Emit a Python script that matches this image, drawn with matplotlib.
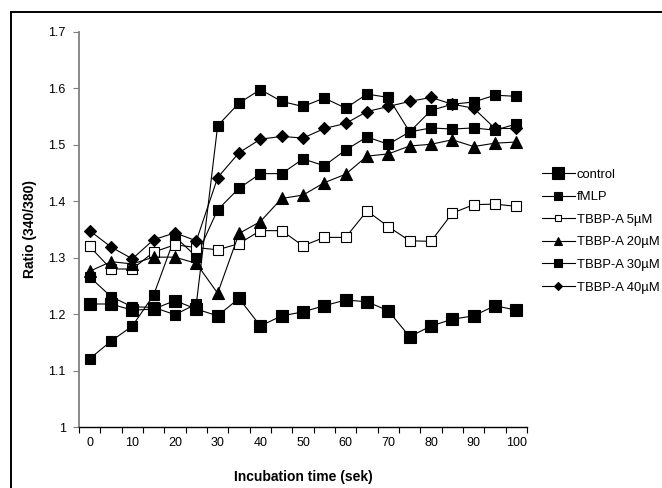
import matplotlib
matplotlib.use("Agg")
import matplotlib.pyplot as plt
from matplotlib.lines import Line2D
from matplotlib.ticker import FixedLocator, NullFormatter, FixedFormatter

plt.rcParams["font.family"] = ["Liberation Sans", "DejaVu Sans"]

TIMES = [0, 5, 10, 15, 20, 25, 30, 35, 40, 45, 50, 55, 60, 65, 70, 75, 80, 85, 90, 95, 100]

CONTROL = [1.218, 1.218, 1.207, 1.209, 1.224, 1.209, 1.197, 1.228, 1.179, 1.197, 1.204,
           1.215, 1.225, 1.222, 1.206, 1.160, 1.179, 1.191, 1.197, 1.215, 1.207]
FMLP = [1.121, 1.152, 1.179, 1.234, 1.337, 1.302, 1.385, 1.423, 1.449, 1.449, 1.475,
        1.463, 1.491, 1.514, 1.501, 1.523, 1.530, 1.528, 1.530, 1.526, 1.537]
TBBPA_5 = [1.320, 1.280, 1.280, 1.310, 1.323, 1.318, 1.314, 1.325, 1.348, 1.348, 1.321,
           1.336, 1.336, 1.383, 1.355, 1.330, 1.329, 1.379, 1.394, 1.395, 1.391]
TBBPA_20 = [1.276, 1.293, 1.289, 1.301, 1.301, 1.290, 1.237, 1.343, 1.364, 1.405, 1.411,
            1.433, 1.448, 1.480, 1.484, 1.498, 1.501, 1.509, 1.497, 1.503, 1.505]
TBBPA_30 = [1.266, 1.231, 1.213, 1.212, 1.199, 1.218, 1.534, 1.574, 1.598, 1.577, 1.568,
            1.583, 1.565, 1.590, 1.584, 1.523, 1.561, 1.572, 1.576, 1.588, 1.586]
TBBPA_40 = [1.348, 1.319, 1.298, 1.332, 1.344, 1.330, 1.442, 1.486, 1.510, 1.515, 1.512,
            1.529, 1.538, 1.559, 1.568, 1.577, 1.584, 1.572, 1.565, 1.529, 1.529]

LABELS = ["control", "fMLP", "TBBP-A 5\u00b5M", "TBBP-A 20\u00b5M", "TBBP-A 30\u00b5M", "TBBP-A 40\u00b5M"]
SERIES = [CONTROL, FMLP, TBBPA_5, TBBPA_20, TBBPA_30, TBBPA_40]

# marker, size in plot, size in legend, face colour
STYLES = [
    ("s", 9.2, 8.0, "black"),
    ("s", 7.0, 5.2, "black"),
    ("s", 7.0, 5.0, "white"),
    ("^", 8.0, 5.8, "black"),
    ("s", 7.0, 5.2, "black"),
    ("D", 6.0, 4.2, "black"),
]

W, H = 662, 488
fig = plt.figure(figsize=(W / 100, H / 100), dpi=100)
ax = fig.add_axes([79 / W, (H - 427) / H, 448 / W, 395 / H])

pos = list(range(len(TIMES)))
for values, (marker, ms, _, face) in zip(SERIES, STYLES):
    ax.plot(pos, values, color="black", linewidth=0.8, marker=marker, markersize=ms,
            markerfacecolor=face, markeredgecolor="black", markeredgewidth=0.8,
            clip_on=False)

ax.set_xlim(-0.5, len(TIMES) - 0.5)
ax.set_ylim(1.0, 1.7)

# category axis: ticks between categories, labels at every second category
ax.xaxis.set_major_locator(FixedLocator([p - 0.5 for p in range(len(TIMES) + 1)]))
ax.xaxis.set_major_formatter(NullFormatter())
ax.xaxis.set_minor_locator(FixedLocator(pos[::2]))
ax.xaxis.set_minor_formatter(FixedFormatter([str(t) for t in TIMES[::2]]))
ax.tick_params(axis="x", which="major", direction="out", length=4.5, width=0.8, color="black")
ax.tick_params(axis="x", which="minor", length=0, pad=7.5, labelsize=9)

yt = [1.0, 1.1, 1.2, 1.3, 1.4, 1.5, 1.6, 1.7]
ax.set_yticks(yt)
ax.set_yticklabels([f"{v:g}" for v in yt])
ax.tick_params(axis="y", direction="out", length=4.5, width=0.8, color="#808080",
               pad=5, labelsize=9)

for side in ("top", "right"):
    ax.spines[side].set_visible(False)
ax.spines["left"].set_color("#808080")
ax.spines["left"].set_linewidth(1.3)
ax.spines["bottom"].set_color("black")
ax.spines["bottom"].set_linewidth(1.0)

ax.set_ylabel("Ratio (340/380)", fontsize=10, fontweight="bold")
ax.yaxis.set_label_coords((37 - 79) / 448, 0.5)
ax.set_xlabel("Incubation time (sek)", fontsize=10, fontweight="bold")
ax.xaxis.set_label_coords(0.5, (427 - 470) / 395)

handles = [
    Line2D([], [], color="black", linewidth=0.8, marker=m, markersize=lms,
           markerfacecolor=face, markeredgecolor="black", markeredgewidth=0.8)
    for (m, _, lms, face) in STYLES
]
fig.legend(handles=handles, labels=LABELS, loc="center left",
           bbox_to_anchor=(542 / W, 1 - 231 / H), frameon=False, fontsize=9.4,
           handlelength=2.5, handletextpad=0.15, labelspacing=0.8,
           borderpad=0, borderaxespad=0)

# outer chart frame (right and bottom edges fall outside the picture)
fig.add_artist(Line2D([10.5 / W, 10.5 / W], [0, 1 - 12 / H], color="black", linewidth=1.4))
fig.add_artist(Line2D([10.5 / W, 1], [1 - 12 / H, 1 - 12 / H], color="black", linewidth=1.4))

fig.savefig("out.png", dpi=100)
